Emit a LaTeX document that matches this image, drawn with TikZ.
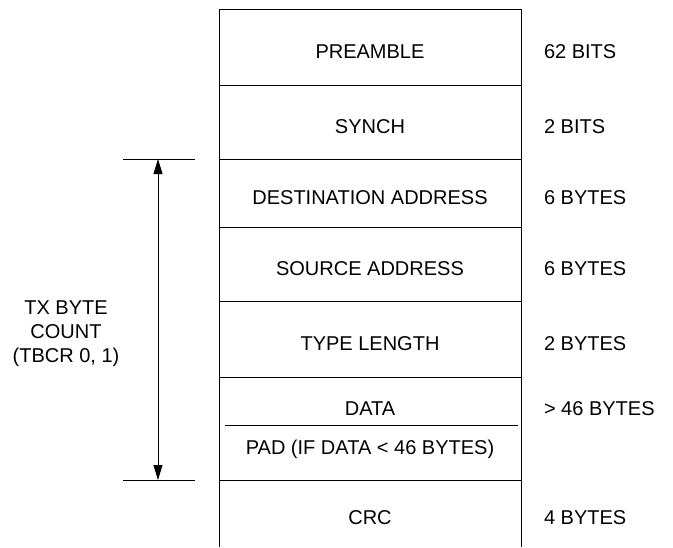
\documentclass[tikz,border=0pt]{standalone}
\usepackage{fontspec}
\setmainfont{Liberation Sans}
\usetikzlibrary{arrows.meta,positioning}

\begin{document}
\begin{tikzpicture}[x=1pt, y=-1pt, line width=0.9pt,
    every node/.style={font=\fontsize{20}{24}\selectfont, inner sep=0pt, outer sep=0pt},
    field/.style={rectangle, minimum width=302pt, text height=22pt, text depth=0pt},
    size/.style={anchor=west, text height=22pt, text depth=0pt},
    fieldtxt/.style={text height=14pt, text depth=0pt}]

    \useasboundingbox (0,0) rectangle (673,547);

    \node[field, minimum height=76pt, anchor=north west] (pre) at (219,9) {PREAMBLE};
    \node[field, minimum height=74pt, below=0pt of pre] (syn) {SYNCH};
    \node[field, minimum height=68pt, below=0pt of syn] (dst) {DESTINATION ADDRESS};
    \node[field, minimum height=74pt, below=0pt of dst] (src) {SOURCE ADDRESS};
    \node[field, minimum height=76pt, below=0pt of src] (typ) {TYPE LENGTH};
    \node[field, minimum height=103pt, below=0pt of typ] (dat) {};
    \node[field, minimum height=67pt, below=0pt of dat] (crc) {CRC};

    \node[fieldtxt] (dattxt) at ([yshift=-31pt]dat.north) {DATA};
    \node[fieldtxt] (padtxt) at ([yshift=-70pt]dat.north) {PAD (IF DATA < 46 BYTES)};

    \node[size, right=23pt of pre] (bpre) {62 BITS};
    \node[size, right=23pt of syn] (bsyn) {2 BITS};
    \node[size, right=23pt of dst] (bdst) {6 BYTES};
    \node[size, right=23pt of src] (bsrc) {6 BYTES};
    \node[size, right=23pt of typ] (btyp) {2 BYTES};
    \node[size, text height=14pt] (bdat) at (dattxt -| bpre.west) {> 46 BYTES};
    \node[size, right=23pt of crc] (bcrc) {4 BYTES};

    \draw (crc.south west) -- (pre.north west) -- (pre.north east) -- (crc.south east);
    \foreach \f in {pre,syn,dst,src,typ,dat}
        \draw (\f.south west) -- (\f.south east);
    \draw ([xshift=6pt,yshift=-48pt]dat.north west) -- ([xshift=-3pt,yshift=-48pt]dat.north east);

    % byte count span
    \coordinate[left=61pt of dst.north west] (ctop);
    \coordinate[left=61pt of crc.north west] (cbot);
    \draw ([xshift=-35pt]ctop) -- ([xshift=37pt]ctop);
    \draw ([xshift=-35pt]cbot) -- ([xshift=37pt]cbot);
    \draw[{Triangle[length=15pt,width=9pt]}-{Triangle[length=15pt,width=9pt]}] (ctop) -- (cbot);
    \node[align=center] (cnt) at (66,334) {TX BYTE\\COUNT\\(TBCR 0, 1)};

\end{tikzpicture}
\end{document}
